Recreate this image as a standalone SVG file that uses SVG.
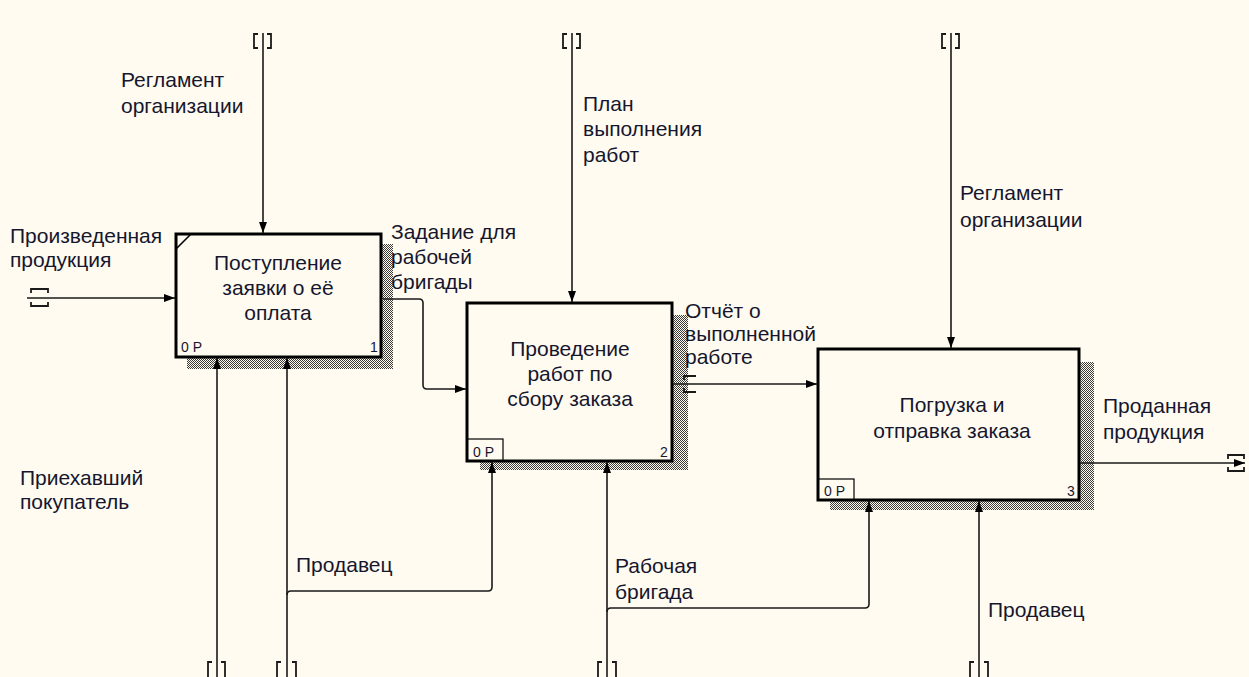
<svg xmlns="http://www.w3.org/2000/svg" width="1249" height="677" viewBox="0 0 1249 677">
  <defs>
    <pattern id="hatch" width="2" height="2" patternUnits="userSpaceOnUse">
      <rect x="0" y="0" width="1" height="1" fill="#3a3a3a"/>
      <rect x="1" y="1" width="1" height="1" fill="#3a3a3a"/>
    </pattern>
    <marker id="arrow" viewBox="0 0 11 8" refX="11" refY="4" markerWidth="11" markerHeight="8" markerUnits="userSpaceOnUse" orient="auto">
      <path d="M0,0 L11,4 L0,8 z" fill="#000"/>
    </marker>
    <style>
      .lbl { font-family: "Liberation Sans", Arial, sans-serif; font-size: 21px; fill: #16162e; }
      .num { font-family: "Liberation Sans", Arial, sans-serif; font-size: 14px; fill: #16162e; }
      .box { fill: #fffbf0; stroke: #000; stroke-width: 3; }
      .shadow { fill: url(#hatch); }
      .tag { fill: none; stroke: #000; stroke-width: 1.2; }
      .wire { fill: none; stroke: #1a1a1a; stroke-width: 1.6; }
      .arr { marker-end: url(#arrow); }
      .tun { fill: none; stroke: #1a1a1a; stroke-width: 1.8; }
    </style>
  </defs>

  <rect x="0" y="0" width="1249" height="677" fill="#fffbf0"/>

  <!-- Activity 1 -->
  <g id="node-1">
    <rect class="shadow" x="187" y="244" width="206" height="125"/>
    <rect class="box" x="176" y="234" width="205" height="123"/>
    <path d="M176,249 L191,234" stroke="#000" stroke-width="1.6"/>
    <text class="lbl" text-anchor="middle" x="278" y="270">Поступление</text>
    <text class="lbl" text-anchor="middle" x="278" y="295">заявки о её</text>
    <text class="lbl" text-anchor="middle" x="278" y="320">оплата</text>
    <text class="num" x="181" y="352">0 P</text>
    <text class="num" x="370" y="352">1</text>
  </g>

  <!-- Activity 2 -->
  <g id="node-2">
    <rect class="shadow" x="480" y="315" width="208" height="155"/>
    <rect class="box" x="467" y="303" width="205" height="158"/>
    <rect class="tag" x="467" y="439" width="36" height="22"/>
    <text class="lbl" text-anchor="middle" x="570" y="356">Проведение</text>
    <text class="lbl" text-anchor="middle" x="570" y="381">работ по</text>
    <text class="lbl" text-anchor="middle" x="570" y="406">сбору заказа</text>
    <text class="num" x="473" y="457">0 P</text>
    <text class="num" x="660" y="457">2</text>
  </g>

  <!-- Activity 3 -->
  <g id="node-3">
    <rect class="shadow" x="830" y="362" width="264" height="148"/>
    <rect class="box" x="818" y="349" width="261" height="151"/>
    <rect class="tag" x="818" y="479" width="36" height="21"/>
    <text class="lbl" text-anchor="middle" x="952" y="412">Погрузка и</text>
    <text class="lbl" text-anchor="middle" x="952" y="438">отправка заказа</text>
    <text class="num" x="824" y="496">0 P</text>
    <text class="num" x="1067" y="496">3</text>
  </g>

  <!-- Arrows, tunnels and their labels -->
  <g id="connectors">
    <!-- input: Произведенная продукция -->
    <path class="wire arr" d="M27,298 H175"/>
    <path class="tun" d="M31,293 V289 H48 V293 M31,302 V306 H48 V302"/>
    <text class="lbl" x="10" y="243">Произведенная</text>
    <text class="lbl" x="10" y="267">продукция</text>

    <!-- control: Регламент организации (1) -->
    <path class="wire arr" d="M263,33 V233"/>
    <path class="tun" d="M258,34 H254 V48 H258 M267,34 H271 V48 H267"/>
    <text class="lbl" x="121" y="87">Регламент</text>
    <text class="lbl" x="121" y="113">организации</text>

    <!-- 1 to 2: Задание для рабочей бригады -->
    <path class="wire arr" d="M383,299 H419 Q423,299 423,303 V385 Q423,389 427,389 H466"/>
    <text class="lbl" x="391" y="239">Задание для</text>
    <text class="lbl" x="391" y="264">рабочей</text>
    <text class="lbl" x="391" y="289">бригады</text>

    <!-- control: План выполнения работ -->
    <path class="wire arr" d="M572,33 V302"/>
    <path class="tun" d="M567,34 H563 V48 H567 M576,34 H580 V48 H576"/>
    <text class="lbl" x="583" y="111">План</text>
    <text class="lbl" x="583" y="136">выполнения</text>
    <text class="lbl" x="583" y="162">работ</text>

    <!-- 2 to 3: Отчёт о выполненной работе -->
    <path class="wire arr" d="M673,384 H817"/>
    <path class="tun" d="M696,376 H684 V380 M684,388 V392 H696"/>
    <text class="lbl" x="685" y="318">Отчёт о</text>
    <text class="lbl" x="685" y="341">выполненной</text>
    <text class="lbl" x="685" y="364">работе</text>

    <!-- control: Регламент организации (3) -->
    <path class="wire arr" d="M951,33 V348"/>
    <path class="tun" d="M946,34 H942 V48 H946 M955,34 H959 V48 H955"/>
    <text class="lbl" x="960" y="200">Регламент</text>
    <text class="lbl" x="960" y="227">организации</text>

    <!-- output: Проданная продукция -->
    <path class="wire arr" d="M1080,463 H1245"/>
    <path class="tun" d="M1228,459 V455 H1244 V459 M1228,467 V471 H1244 V467"/>
    <text class="lbl" x="1103" y="413">Проданная</text>
    <text class="lbl" x="1103" y="439">продукция</text>

    <!-- mechanism: Приехавший покупатель -->
    <path class="wire arr" d="M217,677 V358"/>
    <path class="tun" d="M212,662 H208 V677 M221,662 H225 V677"/>
    <text class="lbl" x="20" y="485">Приехавший</text>
    <text class="lbl" x="20" y="509">покупатель</text>

    <!-- mechanism: Продавец (1 and 2) -->
    <path class="wire arr" d="M287,677 V358"/>
    <path class="wire arr" d="M287,595 Q287,591 291,591 H488 Q492,591 492,587 V462"/>
    <path class="tun" d="M281,662 H277 V677 M292,662 H296 V677"/>
    <text class="lbl" x="296" y="572">Продавец</text>

    <!-- mechanism: Рабочая бригада (2 and 3) -->
    <path class="wire arr" d="M607,677 V462"/>
    <path class="wire arr" d="M607,612 Q607,608 611,608 H865 Q869,608 869,604 V501"/>
    <path class="tun" d="M602,662 H598 V677 M612,662 H616 V677"/>
    <text class="lbl" x="615" y="573">Рабочая</text>
    <text class="lbl" x="615" y="599">бригада</text>

    <!-- mechanism: Продавец (3) -->
    <path class="wire arr" d="M979,677 V501"/>
    <path class="tun" d="M974,662 H970 V677 M984,662 H988 V677"/>
    <text class="lbl" x="988" y="617">Продавец</text>
  </g>
</svg>
